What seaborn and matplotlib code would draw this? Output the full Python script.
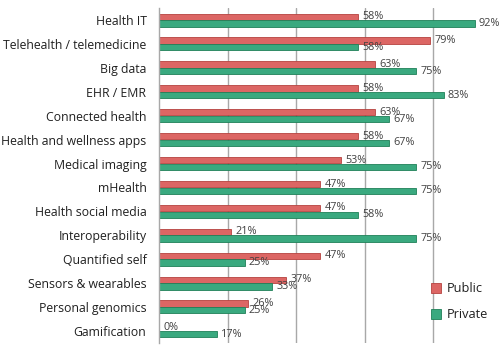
import matplotlib
matplotlib.use("Agg")
import matplotlib.pyplot as plt
import seaborn as sns
import pandas as pd
import numpy as np

CATEGORIES = ["Health IT", "Telehealth / telemedicine", "Big data", "EHR / EMR",
              "Connected health", "Health and wellness apps", "Medical imaging",
              "mHealth", "Health social media", "Interoperability", "Quantified self",
              "Sensors & wearables", "Personal genomics", "Gamification"]
PUBLIC = [58, 79, 63, 58, 63, 58, 53, 47, 47, 21, 47, 37, 26, 0]
PRIVATE = [92, 58, 75, 83, 67, 67, 75, 75, 58, 75, 25, 33, 25, 17]
SERIES = ["Public", "Private"]
COLORS = ["#dc6664", "#3aa97f"]
EDGES = ["#b5423f", "#1f8058"]

df = pd.DataFrame({
    "category": CATEGORIES * 2,
    "value": PUBLIC + PRIVATE,
    "series": [SERIES[0]] * len(CATEGORIES) + [SERIES[1]] * len(CATEGORIES),
})

sns.set_style("white")
plt.rcParams["font.family"] = ["Open Sans", "DejaVu Sans"]

fig = plt.figure(figsize=(5, 3.52), dpi=100)
ax = fig.add_axes([0.318, 0.026, 0.686, 0.951])

sns.barplot(data=df, x="value", y="category", hue="series", orient="h",
            palette=COLORS, saturation=1, width=0.56, gap=0.06, ax=ax, legend=True)

for container, edge in zip(ax.containers, EDGES):
    for bar in container:
        bar.set_edgecolor(edge)
        bar.set_linewidth(0.6)
    ax.bar_label(container, fmt="%d%%", padding=3, fontsize=7.8, color="#404040")

ax.set_xlim(0, 100)
ax.set_ylim(len(CATEGORIES) - 0.5, -0.5)
ax.set_xticks([20, 40, 60, 80])
ax.set_xticklabels([])
ax.tick_params(axis="x", length=0)
ax.grid(axis="x", color="#a8a8a8", linewidth=1)
ax.set_axisbelow(True)

ax.set_yticks(range(len(CATEGORIES)))
ax.set_yticklabels(CATEGORIES, fontsize=8.8, color="#202020")
ax.tick_params(axis="y", which="major", length=0, pad=9)
ax.set_yticks(np.arange(-0.5, len(CATEGORIES)), minor=True)
ax.tick_params(axis="y", which="minor", length=4, color="#a8a8a8", width=1)

for side in ["top", "right", "bottom"]:
    ax.spines[side].set_visible(False)
ax.spines["left"].set_color("#a8a8a8")
ax.spines["left"].set_linewidth(1)

ax.set_xlabel("")
ax.set_ylabel("")

leg = ax.legend(loc="upper left", bbox_to_anchor=(0.76, 0.215), frameon=False,
                fontsize=9.2, handlelength=0.8, handleheight=0.8,
                handletextpad=0.4, labelspacing=1.0, labelcolor="#202020")
for h, edge in zip(leg.legend_handles, EDGES):
    h.set_edgecolor(edge)
    h.set_linewidth(0.6)

fig.savefig("out.png", dpi=100)
